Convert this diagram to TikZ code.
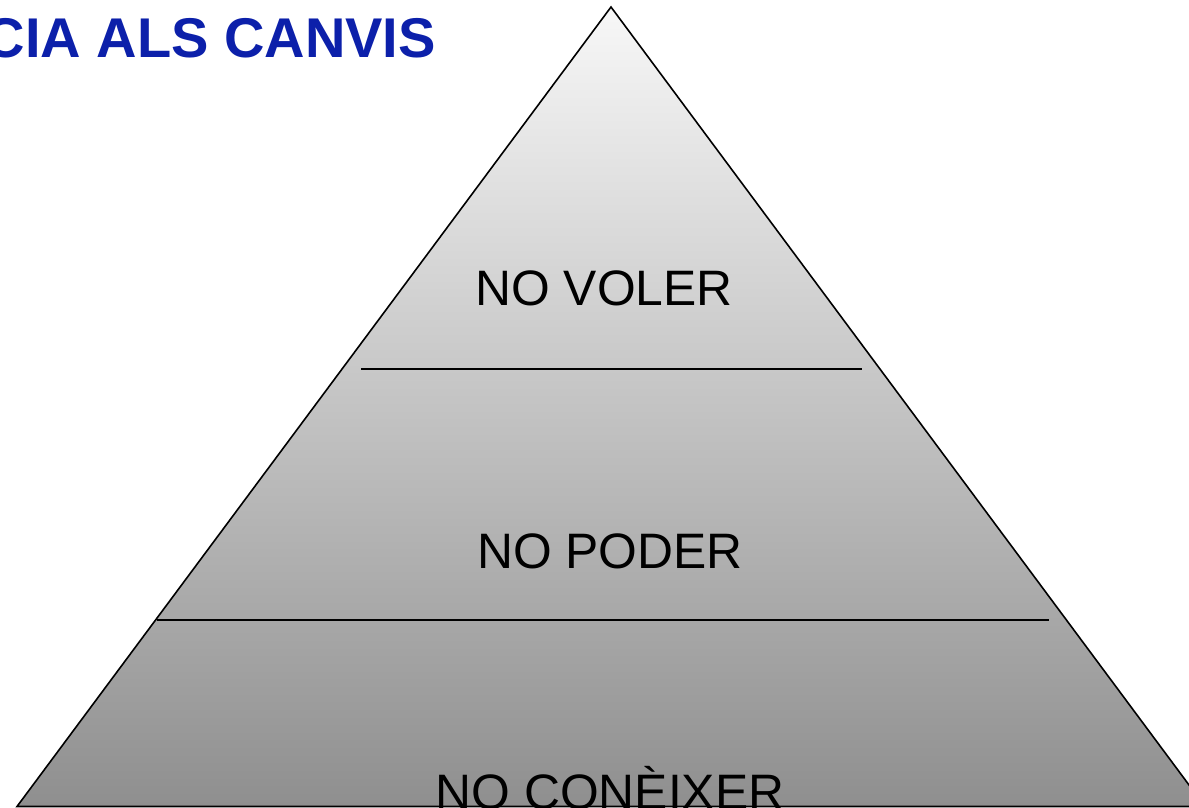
\documentclass[tikz,border=0pt]{standalone}
\usepackage{fontspec}
\setmainfont{Liberation Sans}
\definecolor{titleblue}{RGB}{12,32,170}
\begin{document}
\begin{tikzpicture}[x=1pt,y=-1pt,
  level/.style={font=\fontsize{49.8}{58}\selectfont, text=black, inner sep=0pt, anchor=base},
  divider/.style={draw=black, line width=1.6pt},
  title/.style={font=\bfseries\fontsize{56}{64}\selectfont, text=titleblue, inner sep=0pt, anchor=base east}]
\useasboundingbox (0,0) rectangle (1189,807);
\clip (0,0) rectangle (1189,807);
\coordinate (apex) at (611,7);
\coordinate (bl) at (17,806.5);
\coordinate (br) at (1205,806.5);
\shade[top color=black!3, bottom color=black!44] (apex) -- (bl) -- (br) -- cycle;
\draw[line width=1.6pt, line join=miter] (apex) -- (bl) -- (br) -- cycle;
\coordinate (d1l) at (361,369);
\coordinate (d1r) at (862,369);
\coordinate (d2l) at (157,620);
\coordinate (d2r) at (1049,620);
\draw[divider] (d1l) -- (d1r);
\draw[divider] (d2l) -- (d2r);
\node[level] (voler) at (604,305) {NO VOLER};
\node[level] (poder) at (610,568) {NO PODER};
\node[level] (coneixer) at (610,809) {NO CONÈIXER};
\node[title] (tit) at (436,57) {CIA ALS CANVIS};
\end{tikzpicture}
\end{document}
